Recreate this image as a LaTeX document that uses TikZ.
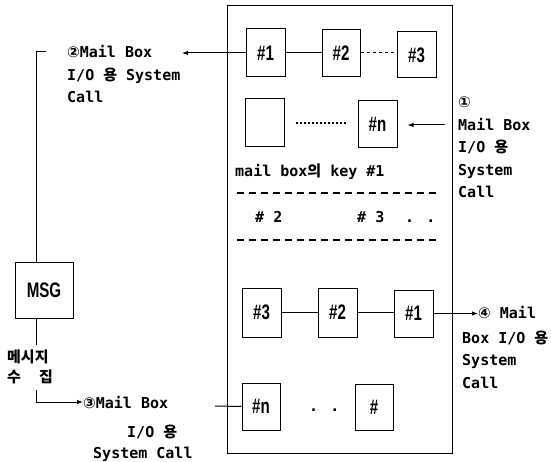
\documentclass[tikz,border=0pt]{standalone}
\usepackage{fontspec}
\setmainfont{DejaVu Sans Mono}
\newfontfamily\kr{Noto Sans CJK KR}
\newfontfamily\symf{DejaVu Sans}
\newfontfamily\lab{Liberation Sans}
\usetikzlibrary{arrows.meta}
\newcommand\boxlab[1]{\scalebox{0.72}[1]{\lab\bfseries\fontsize{21}{21}\selectfont #1}}
\begin{document}
\begin{tikzpicture}[x=1pt,y=-1pt,
  ln/.style={line width=1pt},
  arr/.style={line width=1pt,-{Latex[length=6pt,width=4.5pt]}},
  sep/.style={line width=1.2pt,dash pattern=on 7pt off 5pt},
  mbox/.style={draw,line width=1pt,inner sep=0pt},
  txt/.style={inner sep=0pt,anchor=base west,align=left,font=\fontsize{15}{22.5}\selectfont\bfseries}]
\useasboundingbox (0,0) rectangle (551,462);
% outer frame
\node[mbox,minimum width=225pt,minimum height=447pt] (outer) at (339.5,229.5) {};
% row 1
\node[mbox,minimum width=39pt,minimum height=48pt] (b1) at (265.5,53) {\boxlab{\#1}};
\node[mbox,minimum width=38pt,minimum height=47pt] (b2) at (341,53) {\boxlab{\#2}};
\node[mbox,minimum width=39pt,minimum height=46pt] (b3) at (416.5,55) {\boxlab{\#3}};
% row 2
\node[mbox,minimum width=39pt,minimum height=48pt] (e) at (264.5,123) {};
\node[mbox,minimum width=39pt,minimum height=47pt] (bn) at (377.5,124.5) {\boxlab{\#n}};
% row 3
\node[mbox,minimum width=39pt,minimum height=49pt] (c3) at (261.5,312.5) {\boxlab{\#3}};
\node[mbox,minimum width=39pt,minimum height=49pt] (c2) at (337.5,312.5) {\boxlab{\#2}};
\node[mbox,minimum width=39pt,minimum height=47pt] (c1) at (413.5,313.5) {\boxlab{\#1}};
% row 4
\node[mbox,minimum width=38pt,minimum height=47pt] (dn) at (261,406.5) {\boxlab{\#n}};
\node[mbox,minimum width=38pt,minimum height=46pt] (dh) at (374,407) {\boxlab{\#}};
\node[txt] (dots4) at (309,411) {. .};
% MSG
\node[mbox,minimum width=58pt,minimum height=56pt] (msg) at (44,290) {\boxlab{MSG}};
% texts inside frame
\node[txt] (key) at (235,177) {mail box{\kr 의} key \#1};
\node[txt] (k2) at (255,223) {\# 2};
\node[txt] (k3) at (357,223) {\# 3};
\node[txt] (kd) at (405,223) {. .};
\coordinate (d1a) at (237,193); \coordinate (d1b) at (440,193);
\coordinate (d2a) at (237,240); \coordinate (d2b) at (440,240);
\draw[sep] (d1a) -- (d1b);
\draw[sep] (d2a) -- (d2b);
% labels (base = baseline of last line)
\node[txt] (t2) at (67,103) {{\symf ②}Mail Box\\I/O {\kr 용} System\\Call};
\node[txt] (t1) at (458,198) {{\symf ①}\\Mail Box\\I/O {\kr 용}\\System\\Call};
\node[txt] (t4a) at (478,318) {{\symf ④} Mail};
\node[txt] (t4b) at (462,388) {Box I/O {\kr 용}\\System\\Call};
\node[txt] (t3a) at (83,408) {{\symf ③}Mail Box};
\node[txt] (t3b) at (127,437) {I/O {\kr 용}};
\node[txt] (t3c) at (93,458) {System Call};
\node[txt] (k1) at (7,362) {\kr 메시지};
\node[txt] (k2l) at (7,382) {\kr 수\hspace{18pt}집};
% connectors
\draw[ln] (b1.east) -- (b2.west);
\draw[ln,dashed] (b2.east) -- (b2.east -| b3.west);
\draw[line width=1.2pt,dash pattern=on 2pt off 2pt,shorten <=11pt,shorten >=11pt] (e.east) -- (e.east -| bn.west);
\draw[ln] (c3.east) -- (c2.west);
\draw[ln] (c2.east) -- (c2.east -| c1.west);
\draw[arr] (c1.east) -- (c1.east -| t4a.west);
\coordinate (a2) at (182,53);
\draw[arr] (b1.west) -- (a2);
\coordinate (a1) at (445,125);
\draw[arr,shorten >=10pt] (a1) -- (a1 -| bn.east);
\coordinate (l3) at (215,406);
\draw[ln] (l3) -- (dn.west);
\coordinate (tk) at (46,52);
\coordinate (top) at (36,52);
\draw[ln] (tk) -- (top) -- (top |- msg.north);
\coordinate (m1) at (36,345);
\draw[ln] (m1 |- msg.south) -- (m1);
\coordinate (m2) at (36,390);
\draw[arr] (m2) |- (t3a.west);
\end{tikzpicture}
\end{document}
